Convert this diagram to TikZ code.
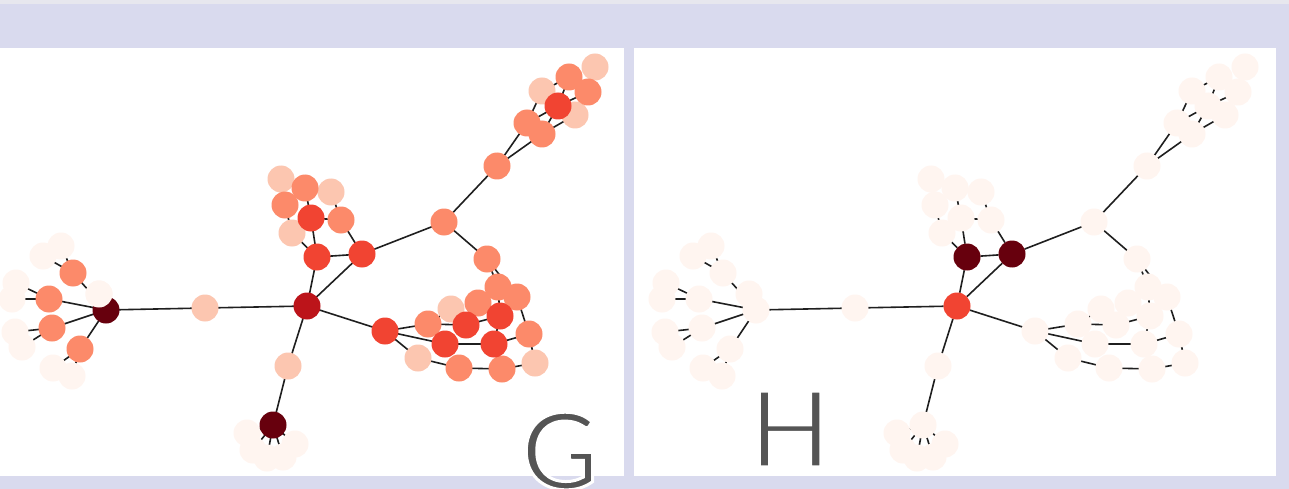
\documentclass[tikz,border=0pt]{standalone}
\usepackage{fontspec}
\setmainfont{Lato}
\definecolor{bgl}{HTML}{D9DAEE}
\definecolor{topl}{HTML}{E7E7EE}
\definecolor{cz}{HTML}{FFF5F0}
\definecolor{ca}{HTML}{FCC6B0}
\definecolor{cb}{HTML}{FC8A6A}
\definecolor{cc}{HTML}{F14432}
\definecolor{cd}{HTML}{BC141A}
\definecolor{ce}{HTML}{67000D}
\definecolor{lbl}{HTML}{555555}
\tikzset{
  nd/.style={circle,minimum size=27pt,inner sep=0pt,draw=none},
  ed/.style={draw=black!88,line width=1.6pt},
  lab/.style={text=lbl,font=\fontsize{106}{110}\selectfont,inner sep=0pt,anchor=base}
}
\newcommand\thinletter[1]{\special{pdf:code 2 Tr 3 w 1 1 1 RG}#1\special{pdf:code 0 Tr 0.4 w}}
\newcommand\nodelist{
1/106/310/ce, 2/205/308/ca, 3/73/273/cb, 4/49/299/cb, 5/52/328/cb, 6/80/349/cb,
8/61/246/cz, 9/43/256/cz, 10/16/283/cz, 11/12/299/cz, 12/15/332/cz, 13/22/347/cz,
14/53/368/cz, 15/72/376/cz, 7/99/294/cz,
16/307/306/cd, 17/317/257/cc, 18/362/254/cc, 19/311/218/cc, 20/341/220/cb,
21/285/205/cb, 22/305/188/cb, 23/281/179/ca, 24/331/192/ca, 25/292/233/ca,
26/288/366/ca, 27/273/425/ce, 28/247/433/cz, 29/253/450/cz, 30/267/458/cz,
31/283/457/cz, 32/295/444/cz,
33/385/331/cc, 34/428/324/cb, 35/418/358/ca, 36/445/344/cc, 37/466/325/cc,
38/451/309/ca, 39/478/303/cb, 40/500/316/cc, 41/498/287/cb, 42/517/297/cb,
43/487/259/cb, 44/529/334/cb, 45/494/344/cc, 46/459/368/cb, 47/502/369/cb,
48/535/363/ca,
49/444/222/cb, 50/497/166/cb, 51/527/123/cb, 52/542/134/cb, 53/558/106/cc,
54/542/91/ca, 55/575/115/ca, 56/569/77/cb, 57/588/92/cb, 58/595/67/ca}
\newcommand\edgelist{
1/2, 1/3, 1/4, 1/5, 1/6, 1/7, 3/8, 3/9, 4/10, 4/11, 5/12, 5/13, 6/14, 6/15, 2/16,
16/17, 16/18, 17/18, 17/19, 17/25, 25/21, 19/20, 20/18, 19/22, 20/24, 22/23,
16/26, 26/27, 27/28, 27/29, 27/30, 27/31, 27/32,
16/33, 33/34, 33/36, 33/35, 34/37, 36/45, 37/40, 40/45, 45/44, 44/42, 41/40,
41/43, 35/46, 46/47, 47/48, 44/48, 37/39, 34/38, 42/43,
18/49, 49/43, 49/50, 50/51, 50/52, 51/54, 51/53, 52/53, 52/55, 53/56, 53/57,
57/58, 54/56}
\begin{document}
\begin{tikzpicture}[x=1pt,y=-1pt]
\useasboundingbox (0,0) rectangle (1289,489);
\fill[bgl] (0,0) rectangle (1289,489);
\fill[topl] (0,0) rectangle (1289,4);
\fill[white] (0,48) rectangle (624,476);
\fill[white] (634,48) rectangle (1276,476);
% ---------- graph G ----------
\foreach \n/\x/\y/\c in \nodelist { \coordinate (pg\n) at (\x,\y); }
\foreach \a/\b in \edgelist { \draw[ed] (pg\a) -- (pg\b); }
\foreach \want in {cz,ca,cb,cc,cd,ce}{
  \foreach \n/\x/\y/\c in \nodelist {
    \edef\tmpa{\c}\edef\tmpb{\want}%
    \ifx\tmpa\tmpb \node[nd,fill=\c] (g\n) at (\x,\y) {}; \fi
  }
}
\node[nd,fill=cz] (g7top) at (99,294) {};
% ---------- graph H ----------
\begin{scope}[xshift=650pt]
\foreach \n/\x/\y/\c in \nodelist { \coordinate (ph\n) at (\x,\y); }
\foreach \a/\b in \edgelist { \draw[ed] (ph\a) -- (ph\b); }
\foreach \n/\x/\y/\c in \nodelist { \node[nd,fill=cz] (h\n) at (\x,\y) {}; }
\node[nd,fill=cc] (h16top) at (307,306) {};
\node[nd,fill=ce] (h17top) at (317,257) {};
\node[nd,fill=ce] (h18top) at (362,254) {};
\end{scope}
% ---------- labels ----------
\node[lab] (labG) at (560,489) {\thinletter{G}};
\node[lab] (labH) at (790,467) {\thinletter{H}};
\end{tikzpicture}
\end{document}
